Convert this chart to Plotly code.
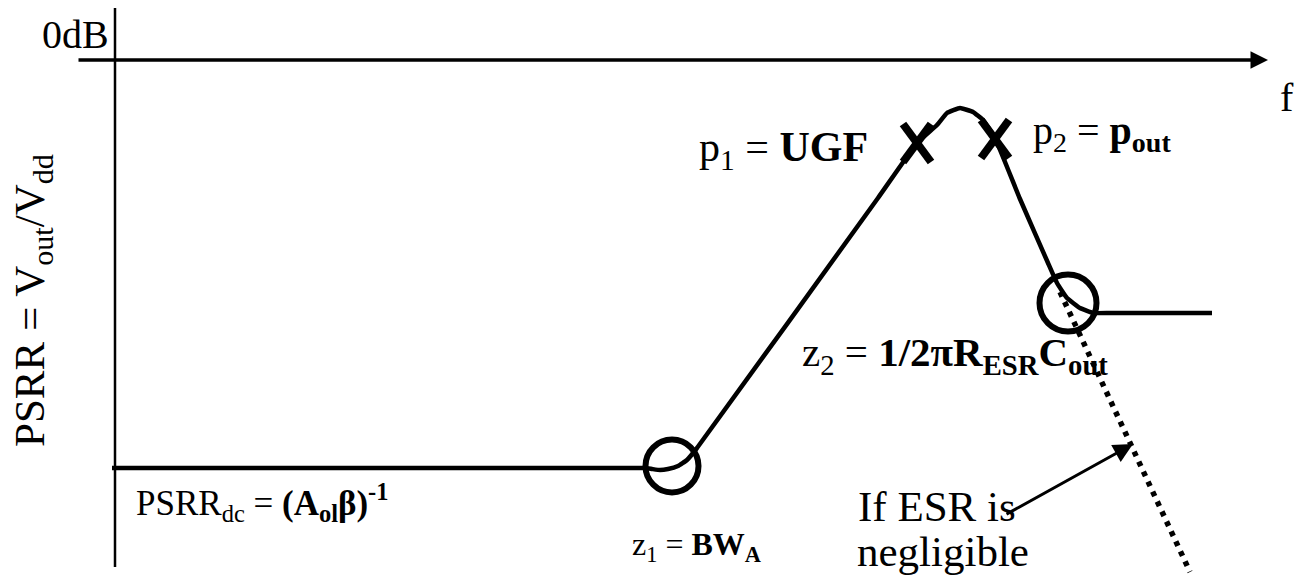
import plotly.graph_objects as go

# ---- diagram data (diagram units: x grows to the right, y grows downward) ----
# main PSRR response curve
resp_x = [112, 645, 652, 660, 668, 678, 687, 697, 878, 917, 937, 947, 960, 973, 983, 995, 1020, 1048, 1057, 1067, 1080, 1093, 1110, 1212]
resp_y = [468, 468, 469, 470, 469, 466, 460, 448, 198, 143, 125, 113, 108, 112, 120, 138, 199, 263, 283, 298, 308, 313, 313, 313]

# response when ESR is negligible (dotted)
esr_x = [1060, 1190]
esr_y = [292, 572]

# poles (X marks) and zeros (circles)
pole_x = [917, 995]
pole_y = [143, 139]
zero_x = [672, 1068]
zero_y = [466, 303]
zero_size = [53, 57]

# axes
faxis_x = [77, 1268]
faxis_y = [60, 60]
yaxis_x = [115, 115]
yaxis_y = [8, 567]

# ESR arrow
esr_arrow_from = (1005, 515)
esr_arrow_to = (1133, 444)

FONT = "Liberation Serif, Times New Roman, serif"
W, H = 1305, 581

fig = go.Figure()

# vertical axis
fig.add_trace(go.Scatter(x=yaxis_x, y=yaxis_y, mode="lines",
                         line=dict(color="black", width=2.5), hoverinfo="skip"))

# response curve
fig.add_trace(go.Scatter(x=resp_x, y=resp_y, mode="lines",
                         line=dict(color="black", width=4.5, shape="spline", smoothing=0.3),
                         hoverinfo="skip"))

# dotted asymptote
fig.add_trace(go.Scatter(x=esr_x, y=esr_y, mode="lines",
                         line=dict(color="black", width=5.5, dash="5px,6px"),
                         hoverinfo="skip"))

# zero circles
fig.add_trace(go.Scatter(x=zero_x, y=zero_y, mode="markers",
                         marker=dict(symbol="circle-open", size=zero_size, color="black",
                                     opacity=1, line=dict(width=6, color="black")),
                         hoverinfo="skip"))

# pole X marks built from centers
px, py = [], []
for cx, cy in zip(pole_x, pole_y):
    px += [cx - 14, cx + 14, None, cx + 14, cx - 14, None]
    py += [cy - 19, cy + 19, None, cy - 19, cy + 19, None]
fig.add_trace(go.Scatter(x=px, y=py, mode="lines",
                         line=dict(color="black", width=8), hoverinfo="skip"))

# frequency axis arrow
fig.add_annotation(x=faxis_x[1], y=faxis_y[1], ax=faxis_x[0], ay=faxis_y[0],
                   xref="x", yref="y", axref="x", ayref="y", text="",
                   showarrow=True, arrowhead=2, arrowsize=1.0, arrowwidth=3.5,
                   arrowcolor="black")

# ESR arrow
fig.add_annotation(x=esr_arrow_to[0], y=esr_arrow_to[1],
                   ax=esr_arrow_from[0], ay=esr_arrow_from[1],
                   xref="x", yref="y", axref="x", ayref="y", text="",
                   showarrow=True, arrowhead=2, arrowsize=1.3, arrowwidth=3,
                   arrowcolor="black")

def label(text, x, y, size, xanchor="left", angle=0):
    fig.add_annotation(x=x, y=y, xref="x", yref="y", text=text, showarrow=False,
                       xanchor=xanchor, yanchor="middle", textangle=angle,
                       font=dict(family=FONT, size=size, color="black"))

label("0dB", 111, 34, 40, xanchor="right")
label("f", 1278, 97, 40)
label("PSRR = V<sub>out</sub>/V<sub>dd</sub>", 33, 301, 43, xanchor="center", angle=-90)
label("p<sub>1</sub> = <b>UGF</b>", 697, 150, 42)
label("p<sub>2</sub> = <b>p<sub>out</sub></b>", 1031, 133, 40)
label("z<sub>2</sub> = <b>1/2πR<sub>ESR</sub>C<sub>out</sub></b>", 800, 355, 41)
label("PSRR<sub>dc</sub> = <b>(A<sub>ol</sub>β)<sup>-1</sup></b>", 134, 502, 35)
label("z<sub>1</sub> = <b>BW<sub>A</sub></b>", 630, 546, 32)
label("If ESR is", 856, 506, 43)
label("negligible", 855, 551, 43)

fig.update_layout(
    width=W, height=H,
    margin=dict(l=0, r=0, t=0, b=0),
    paper_bgcolor="white", plot_bgcolor="white",
    showlegend=False,
    xaxis=dict(range=[0, W], visible=False, fixedrange=True),
    yaxis=dict(range=[H, 0], visible=False, fixedrange=True),
)

fig.write_html("out.html",
               config={"displayModeBar": False},
               post_script="document.body.style.margin='0';document.body.style.overflow='hidden';")
